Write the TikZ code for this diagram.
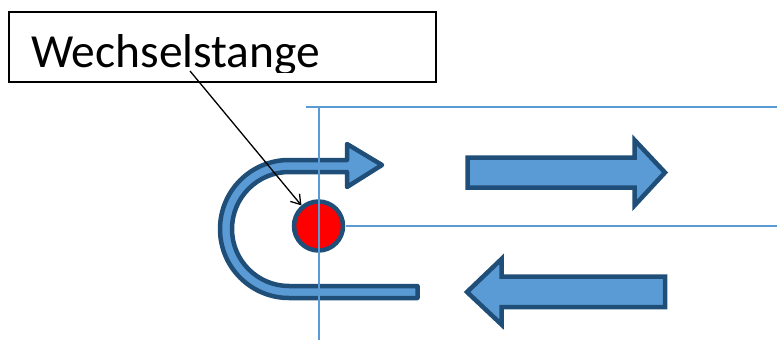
\documentclass[tikz,border=0pt]{standalone}
\usepackage{fontspec}
\setmainfont{Carlito}
\usetikzlibrary{arrows.meta}
\definecolor{fillblue}{HTML}{5B9BD5}
\definecolor{edgeblue}{HTML}{1F4E79}
\definecolor{guideblue}{HTML}{5B9BD5}
\begin{document}
\begin{tikzpicture}[x=1pt,y=-1pt,
  bluearrow/.style={fill=fillblue,draw=edgeblue,line width=4.5pt,line join=miter},
  guide/.style={draw=guideblue,line width=2pt},
  labelbox/.style={draw=black,line width=1.5pt,minimum width=427pt,minimum height=70pt,inner sep=0pt},
  rodstyle/.style={circle,fill=red,draw=edgeblue,line width=4.5pt,minimum size=49pt,inner sep=0pt},
  pointer/.style={draw=black,line width=1.3pt,-{Straight Barb[length=9pt,width=12pt,line width=1.3pt]}}]
\useasboundingbox (0,0) rectangle (777,340);
% label box
\node[labelbox] (lbl) at (222.5,47) {};
\begin{scope}
\clip (10,12) rectangle (436,72);
\node[anchor=base west,inner sep=0pt,font=\fontsize{47.5}{47.5}\selectfont] (lbltext) at (31,67) {Wechselstange};
\end{scope}
% U-shaped arrow
\draw[bluearrow,line join=round] (347,144) -- (382,165) -- (347,187) -- (347,172) -- (289,172)
  arc (270:90:57) -- (417.5,286) -- (417.5,298) -- (289,298)
  arc (90:270:69) -- (347,160) -- cycle;
% right arrow
\draw[bluearrow] (467.5,157.5) -- (634.5,157.5) -- (634.5,140) -- (665,172.5) -- (634.5,205.5) -- (634.5,187.5) -- (467.5,187.5) -- cycle;
% left arrow
\draw[bluearrow] (467,292) -- (501.5,259) -- (501.5,276.5) -- (665,276.5) -- (665,307) -- (501.5,307) -- (501.5,324.5) -- cycle;
% rod
\node[rodstyle] (rod) at (318.5,226) {};
% guide lines
\coordinate (vtop) at (319,106.5);
\coordinate (vbot) at (319,340);
\coordinate (htopl) at (306,106.5);
\coordinate (htopr) at (777,106.5);
\coordinate (hmidl) at (345.5,226);
\coordinate (hmidr) at (777,226);
\draw[guide] (vtop) -- (vbot);
\draw[guide] (htopl) -- (htopr);
\draw[guide] (hmidl) -- (hmidr);
% pointer
\coordinate (pstart) at (190,71);
\draw[pointer] (pstart) -- (rod);
\end{tikzpicture}
\end{document}
